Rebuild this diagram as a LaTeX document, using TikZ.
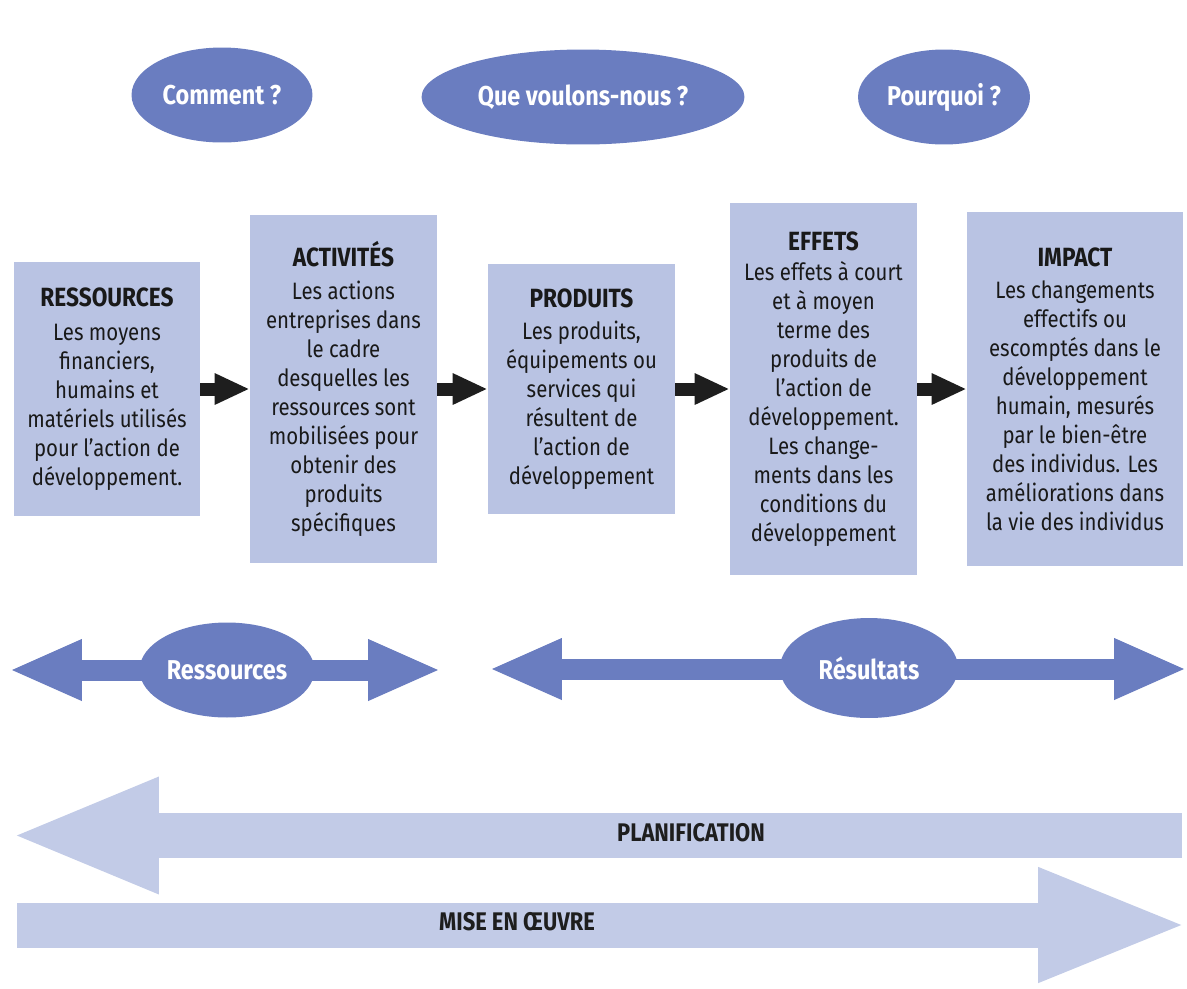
\documentclass[tikz,border=0pt]{standalone}
\usepackage{fontspec}
\setmainfont{Fira Sans}[FakeStretch=0.86]
\usepackage{tikz}
\usetikzlibrary{shapes.geometric,arrows.meta,positioning}
\definecolor{boxblue}{HTML}{B9C3E3}
\definecolor{ovalblue}{HTML}{6A7DC0}
\definecolor{paleblue}{HTML}{C2CBE7}
\definecolor{inkblack}{HTML}{1E1E1E}
\newcommand{\boxtitle}[1]{{\bfseries\fontsize{15}{17}\selectfont #1}}
\tikzstyle{stepbox} = [fill=boxblue, rectangle, align=center, inner sep=0pt,
    text=black!90, font=\fontsize{13.5}{16.5}\selectfont]
\tikzstyle{question} = [fill=ovalblue, ellipse, inner sep=0pt, text=white,
    font=\bfseries\fontsize{15.5}{17}\selectfont]
\tikzstyle{blkarrow} = [line width=0.26cm, inkblack, -{Triangle[length=0.7cm,width=0.58cm]}]
\tikzstyle{dblarrow} = [line width=0.42cm, ovalblue,
    {Triangle[length=1.46cm,width=1.12cm]}-{Triangle[length=1.46cm,width=1.12cm]}]
\tikzstyle{bigarrow} = [line width=0.9cm, paleblue, -{Triangle[length=3cm,width=2.1cm]}]
\tikzstyle{barlabel} = [font=\bfseries\fontsize{14.5}{16}\selectfont, text=inkblack]

\begin{document}
\begin{tikzpicture}[x=0.02cm, y=-0.02cm]
\useasboundingbox (0,0) rectangle (1187,988);

% questions
\node [question, minimum width=3.62cm, minimum height=1.9cm] (comment) at (222,95) {Comment ?};
\node [question, minimum width=6.46cm, minimum height=1.9cm] (quoi) at (583,97) {Que voulons-nous ?};
\node [question, minimum width=3.44cm, minimum height=1.9cm] (pourquoi) at (944,97) {Pourquoi ?};

% chain
\node [stepbox, minimum width=3.72cm, minimum height=5.1cm] (ressources) at (107,389) {
    \boxtitle{RESSOURCES}\\[3pt]
    Les moyens\\ financiers,\\ humains et\\ matériels utilisés\\ pour l’action de\\ développement.};
\node [stepbox, minimum width=3.74cm, minimum height=6.98cm] (activites) at (343.5,389) {
    \boxtitle{ACTIVITÉS}\\[2pt]
    Les actions\\ entreprises dans\\ le cadre\\ desquelles les\\ ressources sont\\ mobilisées pour\\ obtenir des\\ produits\\ spécifiques};
\node [stepbox, minimum width=3.74cm, minimum height=5cm] (produits) at (581.5,389) {
    \boxtitle{PRODUITS}\\[2pt]
    Les produits,\\ équipements ou\\ services qui\\ résultent de\\ l'action de\\ développement};
\node [stepbox, minimum width=3.74cm, minimum height=7.46cm] (effets) at (823.5,389) {
    \boxtitle{EFFETS}\\[1pt]
    Les effets à court\\ et à moyen\\ terme des\\ produits de\\ l'action de\\ développement.\\ Les change-\\ ments dans les\\ conditions du\\ développement};
\node [stepbox, minimum width=4.32cm, minimum height=7.08cm] (impact) at (1075,389) {
    \boxtitle{IMPACT}\\[2pt]
    Les changements\\ effectifs ou\\ escomptés dans le\\ développement\\ humain, mesurés\\ par le bien-être\\ des individus. Les\\ améliorations dans\\ la vie des individus};

\draw [blkarrow] (ressources.east) -- (activites.west);
\draw [blkarrow] (activites.east) -- (produits.west);
\draw [blkarrow] (produits.east) -- (effets.west);
\draw [blkarrow] (effets.east) -- (impact.west);

% ressources / resultats
\coordinate (resL) at (9,670);
\coordinate (resR) at (441,670);
\coordinate (rslL) at (489,669);
\coordinate (rslR) at (1187,669);
\draw [dblarrow] (resL) -- (resR);
\draw [dblarrow] (rslL) -- (rslR);
\node [question, minimum width=3.5cm, minimum height=1.9cm] (ressell) at (227,670) {Ressources};
\node [question, minimum width=3.56cm, minimum height=2cm] (resuell) at (869,668) {Résultats};

% planification / mise en oeuvre
\coordinate (planR) at (1182,835.5);
\coordinate (planL) at (9,835.5);
\coordinate (miseL) at (17,925);
\coordinate (miseR) at (1190,925);
\draw [bigarrow] (planR) -- (planL);
\draw [bigarrow, -{Triangle[length=3.04cm,width=2.06cm]}] (miseL) -- (miseR);
\node [barlabel] (planlbl) at (691,833) {PLANIFICATION};
\node [barlabel] (miselbl) at (517,922) {MISE EN ŒUVRE};
\end{tikzpicture}
\end{document}
